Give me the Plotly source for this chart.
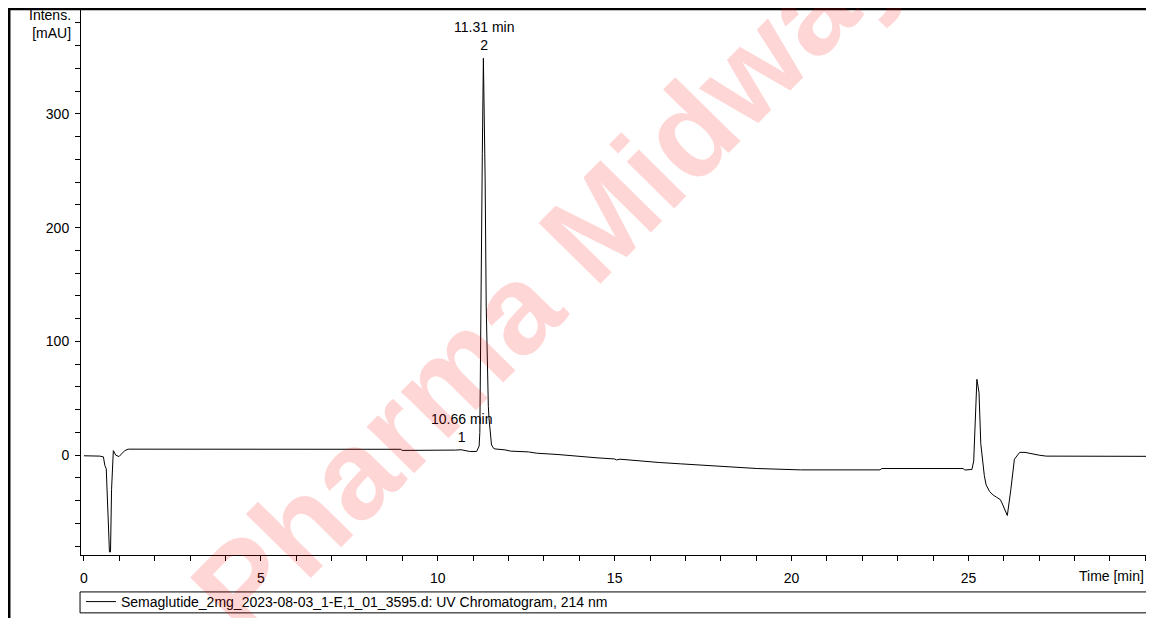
import plotly.graph_objects as go

# ---- data ----
time_min = [
    0.0, 0.2, 0.45, 0.55, 0.59, 0.63, 0.67, 0.72, 0.75, 0.78, 0.83, 0.90, 0.99,
    1.08, 1.15, 1.25, 3.0, 6.0, 8.95, 9.0, 10.4, 10.5, 10.66, 10.8, 10.9, 11.1,
    11.17, 11.19, 11.20, 11.22, 11.24, 11.26, 11.29, 11.32, 11.34, 11.37, 11.40,
    11.43, 11.45, 11.48, 11.52, 11.58, 11.62, 11.9, 12.06, 12.56, 12.8, 13.4,
    14.0, 14.5, 15.0, 15.05, 15.15, 15.5, 15.84, 16.26, 16.87, 17.53, 18.27,
    19.03, 20.25, 22.5, 22.55, 24.4, 24.85, 24.9, 25.1, 25.15, 25.2, 25.24,
    25.3, 25.35, 25.45, 25.5, 25.6, 25.7, 25.8, 25.9, 25.95, 26.05, 26.1,
    26.2, 26.3, 26.45, 26.6, 27.0, 27.2, 30.2,
]
intensity_mau = [
    -0.5, -0.6, -0.8, -1.5, -9, -12, -46, -85, -85, -30, 4, 0, -1.2,
    2, 4, 5.3, 5.3, 5.3, 5.2, 4.2, 4.1, 4.5, 4.8, 3.8, 3.3, 3.3,
    8, 20, 60, 150, 255, 265, 348.8, 300, 242, 131, 80,
    43, 32, 20, 9, 6, 5.5, 4.7, 3.6, 2.9, 1.75, 0.6,
    -1.2, -2.3, -3.3, -4.2, -3.5, -4.5, -5, -6.4, -7.6, -8.8, -10.2,
    -11.7, -12.9, -12.9, -11.7, -11.7, -11.7, -13, -12.5, -5, 40, 66.7,
    55, 10, -18, -26, -32, -35, -37, -39, -42, -49, -53,
    -30, -3.5, 2.5, 2.5, 0, -0.8, -1,
]

peak_times = [10.66, 11.31]
peak_heights = [4.8, 348.8]
peak_numbers = ["1", "2"]

x_tick_values = [0, 5, 10, 15, 20, 25]
y_tick_values = [0, 100, 200, 300]

trace_name = "Semaglutide_2mg_2023-08-03_1-E,1_01_3595.d: UV Chromatogram, 214 nm"
x_title = "Time [min]"
y_title = "Intens.<br>[mAU]"
watermark = "Pharma Midway"

FONT = "Arial, Liberation Sans, sans-serif"

fig = go.Figure()
fig.add_trace(go.Scatter(
    x=time_min, y=intensity_mau, mode="lines", name=trace_name,
    line=dict(color="black", width=1), showlegend=True,
))

annotations = []
for t, h, n in zip(peak_times, peak_heights, peak_numbers):
    annotations.append(dict(
        x=t, y=h, xref="x", yref="y", text=f"{t:.2f} min<br>{n}",
        showarrow=False, xanchor="center", yanchor="bottom", yshift=3,
        font=dict(family=FONT, size=14, color="black"),
    ))

annotations.append(dict(
    x=-0.0075, y=1.006, xref="paper", yref="paper", text=y_title,
    showarrow=False, xanchor="right", yanchor="top", align="right",
    font=dict(family=FONT, size=14, color="black"),
))
annotations.append(dict(
    x=1.0, y=-0.038, xref="paper", yref="paper", text=x_title,
    showarrow=False, xanchor="right", yanchor="middle",
    font=dict(family=FONT, size=14, color="black"),
))
annotations.append(dict(
    x=0.439, y=0.512, xref="paper", yref="paper", text=watermark,
    showarrow=False, xanchor="center", yanchor="middle", textangle=-45.5,
    font=dict(family="Liberation Sans, Arial, sans-serif", size=126,
              color="rgba(255,0,0,0.16)", weight="bold"),
))

shapes = [
    # outer frame (left and top)
    dict(type="line", xref="paper", yref="paper", x0=-0.0674, x1=-0.0674,
         y0=0.998, y1=-0.2, line=dict(color="black", width=2.5)),
    dict(type="line", xref="paper", yref="paper", x0=-0.069, x1=1.01,
         y0=0.998, y1=0.998, line=dict(color="black", width=2.5)),
    # legend box spanning the width
    dict(type="rect", xref="paper", yref="paper", x0=-0.0009, x1=1.01,
         y0=-0.0675, y1=-0.1058, line=dict(color="black", width=1),
         fillcolor="rgba(0,0,0,0)"),
]

fig.update_layout(
    width=1138, height=610,
    margin=dict(l=73, r=0, t=0, b=62),
    paper_bgcolor="white", plot_bgcolor="white",
    font=dict(family=FONT, size=14, color="black"),
    showlegend=True,
    legend=dict(x=0.0, y=-0.0867, xanchor="left", yanchor="middle",
                orientation="h", bgcolor="rgba(0,0,0,0)", borderwidth=0,
                font=dict(family=FONT, size=14, color="black")),
    annotations=annotations,
    shapes=shapes,
)

fig.update_xaxes(
    range=[-0.084, 30.02], showgrid=False, zeroline=False,
    showline=True, linecolor="black", linewidth=1,
    tickvals=x_tick_values, ticktext=[str(v) for v in x_tick_values],
    ticks="outside", ticklen=5, tickcolor="black", ticklabelstandoff=5,
    minor=dict(dtick=1, tick0=0, ticks="outside", ticklen=5, tickcolor="black", showgrid=False),
    tickfont=dict(family=FONT, size=14, color="black"), automargin=False,
)
fig.update_yaxes(
    range=[-87.7, 393], showgrid=False, zeroline=False,
    showline=True, linecolor="black", linewidth=1,
    tickvals=y_tick_values, ticktext=[str(v) for v in y_tick_values],
    ticks="outside", ticklen=5, tickcolor="black", ticklabelstandoff=3,
    minor=dict(dtick=20, tick0=0, ticks="outside", ticklen=5, tickcolor="black", showgrid=False),
    tickfont=dict(family=FONT, size=14, color="black"), automargin=False,
)

fig.write_html("out.html")
